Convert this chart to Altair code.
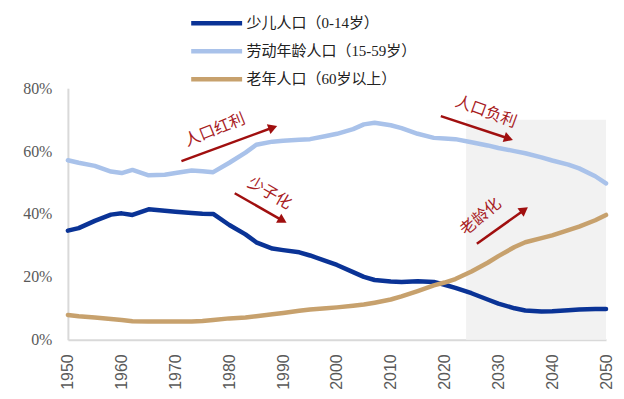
import altair as alt
import pandas as pd

# ---- data ----
years = [1950, 1952, 1955, 1958, 1960, 1962, 1965, 1968, 1970, 1973, 1975, 1977,
         1980, 1983, 1985, 1988, 1990, 1993, 1995, 1998, 2000, 2003, 2005, 2007,
         2010, 2012, 2015, 2018, 2020, 2022, 2025, 2028, 2030, 2033, 2035, 2038,
         2040, 2043, 2045, 2048, 2050]
children = [34.7, 35.5, 37.8, 39.8, 40.2, 39.7, 41.5, 41.0, 40.7, 40.3, 40.1, 40.0,
            36.5, 33.5, 31.0, 29.0, 28.5, 27.8, 26.8, 25.0, 23.8, 21.5, 20.0, 19.0,
            18.5, 18.4, 18.6, 18.4, 17.5, 16.5, 14.8, 12.8, 11.5, 10.0, 9.3, 9.0,
            9.1, 9.4, 9.6, 9.8, 9.8]
working = [57.1, 56.3, 55.3, 53.5, 53.0, 54.0, 52.3, 52.5, 53.0, 53.8, 53.6, 53.3,
           56.3, 59.5, 62.0, 63.0, 63.3, 63.6, 63.8, 64.8, 65.5, 67.0, 68.5, 69.0,
           68.2, 67.3, 65.5, 64.2, 64.0, 63.8, 62.8, 61.8, 61.0, 60.0, 59.3, 58.0,
           57.0, 55.7, 54.5, 52.0, 49.7]
elderly = [7.9, 7.5, 7.1, 6.6, 6.3, 5.9, 5.8, 5.8, 5.8, 5.8, 6.0, 6.3,
           6.8, 7.1, 7.5, 8.1, 8.5, 9.2, 9.6, 10.0, 10.3, 10.8, 11.2, 11.8,
           12.8, 13.8, 15.5, 17.3, 18.2, 19.3, 21.7, 24.5, 26.6, 29.5, 31.0, 32.3,
           33.2, 34.9, 36.0, 38.0, 39.7]

series_names = ["少儿人口（0-14岁）", "劳动年龄人口（15-59岁）", "老年人口（60岁以上）"]
series_colors = ["#0A3396", "#A9C2EA", "#C7A16D"]
x_ticks = list(range(1950, 2051, 5))
y_ticks = [0, 20, 40, 60, 80]

forecast_start = [2024]
forecast_end = [2050]
forecast_top = [70]

# annotations (data coordinates)
arrow_x = [1971.1, 1981.0, 2019.3, 2026.0]
arrow_y = [56.8, 46.6, 71.1, 30.5]
arrow_x2 = [1988.1, 1989.9, 2031.9, 2034.8]
arrow_y2 = [67.5, 37.9, 64.0, 41.3]
arrow_head_angle = [70, 120, 108, 54]

label_text = ["人口红利", "少子化", "人口负利", "老龄化"]
label_x = [1977.3, 1987.5, 2027.7, 2026.7]
label_y = [66.7, 46.6, 72.5, 39.1]
label_angle = [338, 30, 20, 320]

# ---- tables ----
rows = []
for name, vals in zip(series_names, [children, working, elderly]):
    for yr, v in zip(years, vals):
        rows.append({"year": yr, "share": v, "series": name})
df = pd.DataFrame(rows)

shade_df = pd.DataFrame({"x": forecast_start, "x2": forecast_end, "y": [0], "y2": forecast_top})
arrow_df = pd.DataFrame({"x": arrow_x, "y": arrow_y, "x2": arrow_x2, "y2": arrow_y2,
                         "ang": arrow_head_angle})
label_df = pd.DataFrame({"x": label_x, "y": label_y, "t": label_text, "ang": label_angle})

x_scale = alt.Scale(domain=[1950, 2050], nice=False, zero=False)
y_scale = alt.Scale(domain=[0, 80], nice=False)

serif = "Liberation Serif, Noto Sans CJK SC"

x_axis = alt.Axis(values=x_ticks, labelAngle=270, format="d", title=None,
                  labelFontSize=16, labelColor="#595959", labelFont="Liberation Sans",
                  domainColor="#D9D9D9", domainWidth=2, ticks=False, grid=False,
                  labelPadding=14, labelAlign="right", labelBaseline="middle",
                  labelOverlap=False)
y_axis = alt.Axis(values=y_ticks, labelExpr="datum.value + '%'", title=None,
                  labelFontSize=16, labelColor="#595959", labelFont=serif,
                  domainColor="#D9D9D9", domainWidth=2, ticks=False, grid=False,
                  labelPadding=16)

shade = alt.Chart(shade_df).mark_rect(color="#F2F2F2").encode(
    x=alt.X("x:Q", scale=x_scale, axis=x_axis),
    x2="x2:Q",
    y=alt.Y("y:Q", scale=y_scale, axis=y_axis),
    y2="y2:Q",
)

lines = alt.Chart(df).mark_line(strokeWidth=4.5, strokeCap="round", strokeJoin="round").encode(
    x=alt.X("year:Q", scale=x_scale, axis=x_axis),
    y=alt.Y("share:Q", scale=y_scale, axis=y_axis),
    color=alt.Color("series:N", sort=series_names,
                    scale=alt.Scale(domain=series_names, range=series_colors),
                    legend=alt.Legend(title=None, orient="none", legendX=134, legendY=-80,
                                      symbolType="M-2,0H2", symbolSize=650,
                                      symbolStrokeWidth=4.5, labelFontSize=15,
                                      labelFont=serif, labelColor="#222222",
                                      labelLimit=400, padding=0,
                                      rowPadding=4, labelOffset=15)),
    order=alt.Order("year:Q"),
)

arrow_color = "#A00F0F"
rules = alt.Chart(arrow_df).mark_rule(color=arrow_color, strokeWidth=2.5).encode(
    x="x:Q", y="y:Q", x2="x2:Q", y2="y2:Q"
)
heads = alt.Chart(arrow_df).mark_point(shape="triangle-up", filled=True, size=110,
                                       color=arrow_color, opacity=1).encode(
    x="x2:Q", y="y2:Q", angle=alt.Angle("ang:Q", scale=None)
)
texts = alt.Chart(label_df).mark_text(font="Noto Sans CJK SC", fontSize=16,
                                      color="#A8201E", align="center",
                                      baseline="middle").encode(
    x="x:Q", y="y:Q", text="t:N", angle=alt.Angle("ang:Q", scale=None)
)

chart = alt.layer(shade, lines, rules, heads, texts).properties(
    width=539, height=252,
    padding={"left": 60, "top": 80, "right": 10, "bottom": 55},
    autosize="none",
).configure_view(stroke=None)

chart.save("out.html", embed_options={"renderer": "svg", "actions": False})
